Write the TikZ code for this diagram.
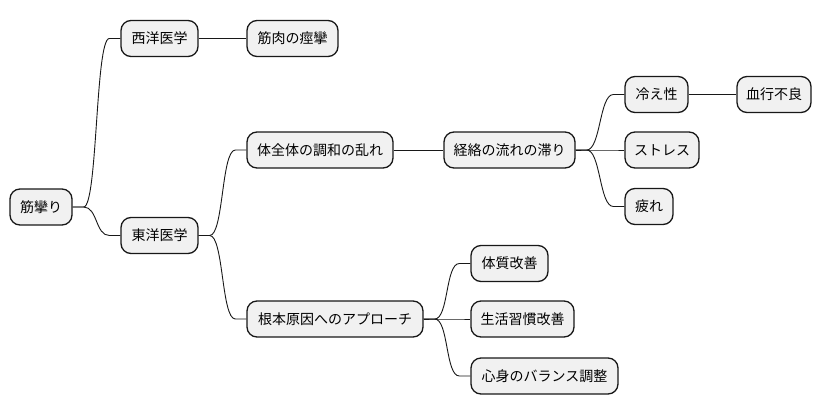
\documentclass[tikz,border=0pt]{standalone}
\usepackage{fontspec}
\setmainfont{Noto Sans CJK JP}
\usetikzlibrary{calc}
\definecolor{nodefill}{HTML}{F1F1F1}
\definecolor{nodeline}{HTML}{181818}
\tikzset{
  mm/.style={draw=nodeline, fill=nodefill, line width=1.3pt, rounded corners=10pt,
    minimum height=36pt, inner sep=0pt, font=\fontsize{14}{16}\selectfont, text=black},
  link/.style={draw=nodeline, line width=0.9pt},
  branch/.style={to path={-- ++(11,0) .. controls +(14,0) and ([xshift=-25pt]\tikztotarget) .. ([xshift=-11pt]\tikztotarget) -- (\tikztotarget)}}
}
\begin{document}
\begin{tikzpicture}[x=1pt,y=-1pt]
\useasboundingbox (0,0) rectangle (824,415);
\node[mm, minimum width=62pt] (root) at (41,207) {筋攣り};
\node[mm, minimum width=77pt] (west) at (159.5,38.5) {西洋医学};
\node[mm, minimum width=91pt] (kin) at (292.5,38.5) {筋肉の痙攣};
\node[mm, minimum width=77pt] (east) at (159.5,235.5) {東洋医学};
\node[mm, minimum width=146pt] (chowa) at (320,150) {体全体の調和の乱れ};
\node[mm, minimum width=131pt] (keiraku) at (509.5,150) {経絡の流れの滞り};
\node[mm, minimum width=63pt] (hie) at (656.5,94.5) {冷え性};
\node[mm, minimum width=74pt] (kekko) at (774,94.5) {血行不良};
\node[mm, minimum width=74pt] (stress) at (662,150) {ストレス};
\node[mm, minimum width=48pt] (tsukare) at (649,206.5) {疲れ};
\node[mm, minimum width=176pt] (konpon) at (335,319) {根本原因へのアプローチ};
\node[mm, minimum width=77pt] (taishitsu) at (509.5,263.5) {体質改善};
\node[mm, minimum width=103pt] (seikatsu) at (522.5,319) {生活習慣改善};
\node[mm, minimum width=147pt] (shinshin) at (544.5,376) {心身のバランス調整};

\draw[link] (root.east) to[branch] (west.west);
\draw[link] (root.east) to[branch] (east.west);
\draw[link] (west.east) -- (kin.west);
\draw[link] (east.east) to[branch] (chowa.west);
\draw[link] (east.east) to[branch] (konpon.west);
\draw[link] (chowa.east) -- (keiraku.west);
\draw[link] (keiraku.east) to[branch] (hie.west);
\draw[link] (keiraku.east) to[branch] (stress.west);
\draw[link] (keiraku.east) to[branch] (tsukare.west);
\draw[link] (hie.east) -- (kekko.west);
\draw[link] (konpon.east) to[branch] (taishitsu.west);
\draw[link] (konpon.east) to[branch] (seikatsu.west);
\draw[link] (konpon.east) to[branch] (shinshin.west);
\end{tikzpicture}
\end{document}
